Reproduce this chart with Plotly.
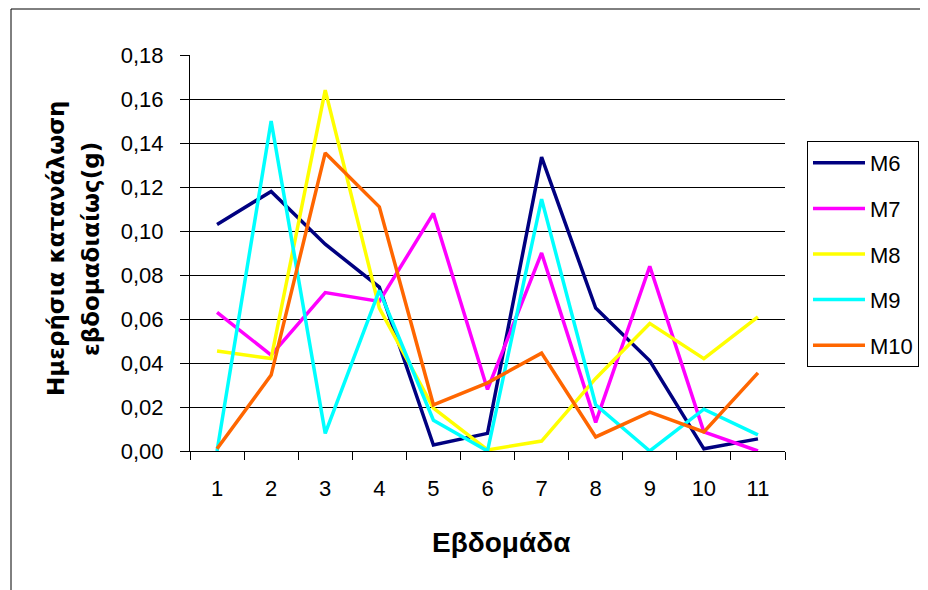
import plotly.graph_objects as go

weeks = ["1", "2", "3", "4", "5", "6", "7", "8", "9", "10", "11"]
m6 = [0.103, 0.118, 0.094, 0.0745, 0.0027, 0.008, 0.1336, 0.065, 0.041, 0.001, 0.0055]
m7 = [0.063, 0.0436, 0.072, 0.068, 0.108, 0.028, 0.090, 0.013, 0.084, 0.0087, 0.0]
m8 = [0.0455, 0.042, 0.164, 0.065, 0.0195, 0.0005, 0.0045, 0.033, 0.058, 0.042, 0.061]
m9 = [0.0, 0.150, 0.008, 0.073, 0.014, 0.0, 0.1145, 0.021, 0.0, 0.019, 0.0073]
m10 = [0.001, 0.0345, 0.1355, 0.111, 0.021, 0.031, 0.0445, 0.0064, 0.0177, 0.0087, 0.0355]
series_names = ["M6", "M7", "M8", "M9", "M10"]
series_values = [m6, m7, m8, m9, m10]
series_colors = ["#000080", "#FF00FF", "#FFFF00", "#00FFFF", "#FF6600"]
y_ticks = [0.0, 0.02, 0.04, 0.06, 0.08, 0.10, 0.12, 0.14, 0.16, 0.18]

# page has an 8px body margin; work in page pixels and convert
OFF = 8
W, H = 928 - OFF, 590 - OFF
L, R, T, B = 190, 785, 55, 451  # page pixels of plot area

fig = go.Figure()
for name, vals, col in zip(series_names, series_values, series_colors):
    fig.add_trace(go.Scatter(x=weeks, y=vals, name=name, mode="lines",
                             line=dict(color=col, width=3.5), legendgroup=name))

def px_x(p):
    return (p - L) / (R - L)

def px_y(p):
    return (B - p) / (B - T)

font_main = "Liberation Sans, Arial, sans-serif"
fig.update_layout(
    width=W, height=H,
    margin=dict(l=L - OFF, r=W - (R - OFF), t=T - OFF, b=H - (B - OFF), pad=0,
                autoexpand=False),
    paper_bgcolor="white", plot_bgcolor="white",
    separators=",.",
    font=dict(family=font_main, size=22, color="black"),
    showlegend=True,
    legend=dict(x=px_x(807), y=px_y(141), xanchor="left", yanchor="top",
                bordercolor="black", borderwidth=1, bgcolor="white",
                font=dict(size=22), tracegroupgap=14, itemwidth=52),
    xaxis=dict(type="category", range=[-0.5, 10.5], tickson="boundaries",
               ticks="outside", ticklen=8, tickcolor="black",
               showline=True, linecolor="black", linewidth=1,
               showgrid=False, zeroline=False, ticklabelstandoff=18,
               tickfont=dict(size=22)),
    yaxis=dict(range=[0, 0.18], tickvals=y_ticks, tickformat=".2f",
               ticks="outside", ticklen=9, tickcolor="black",
               showline=True, linecolor="black", linewidth=1,
               showgrid=True, gridcolor="black", gridwidth=1,
               zeroline=False, ticklabelstandoff=12, tickfont=dict(size=22)),
    annotations=[
        dict(text="<b>Ημερήσια κατανάλωση</b>", textangle=-90, xref="paper", yref="paper",
             x=px_x(56), y=px_y(249), xanchor="center", yanchor="middle", showarrow=False,
             font=dict(size=23, family="DejaVu Sans, sans-serif")),
        dict(text="<b>εβδομαδιαίως(g)</b>", textangle=-90, xref="paper", yref="paper",
             x=px_x(91), y=px_y(249), xanchor="center", yanchor="middle", showarrow=False,
             font=dict(size=23, family="DejaVu Sans, sans-serif")),
        dict(text="<b>Εβδομάδα</b>", xref="paper", yref="paper",
             x=px_x(501), y=px_y(542), xanchor="center", yanchor="middle", showarrow=False,
             font=dict(size=28, family=font_main)),
    ],
    shapes=[
        dict(type="rect", xref="paper", yref="paper", x0=px_x(11), x1=px_x(940),
             y0=px_y(600), y1=px_y(9), line=dict(color="black", width=1), layer="below"),
    ],
)

fig.write_html("out.html")
